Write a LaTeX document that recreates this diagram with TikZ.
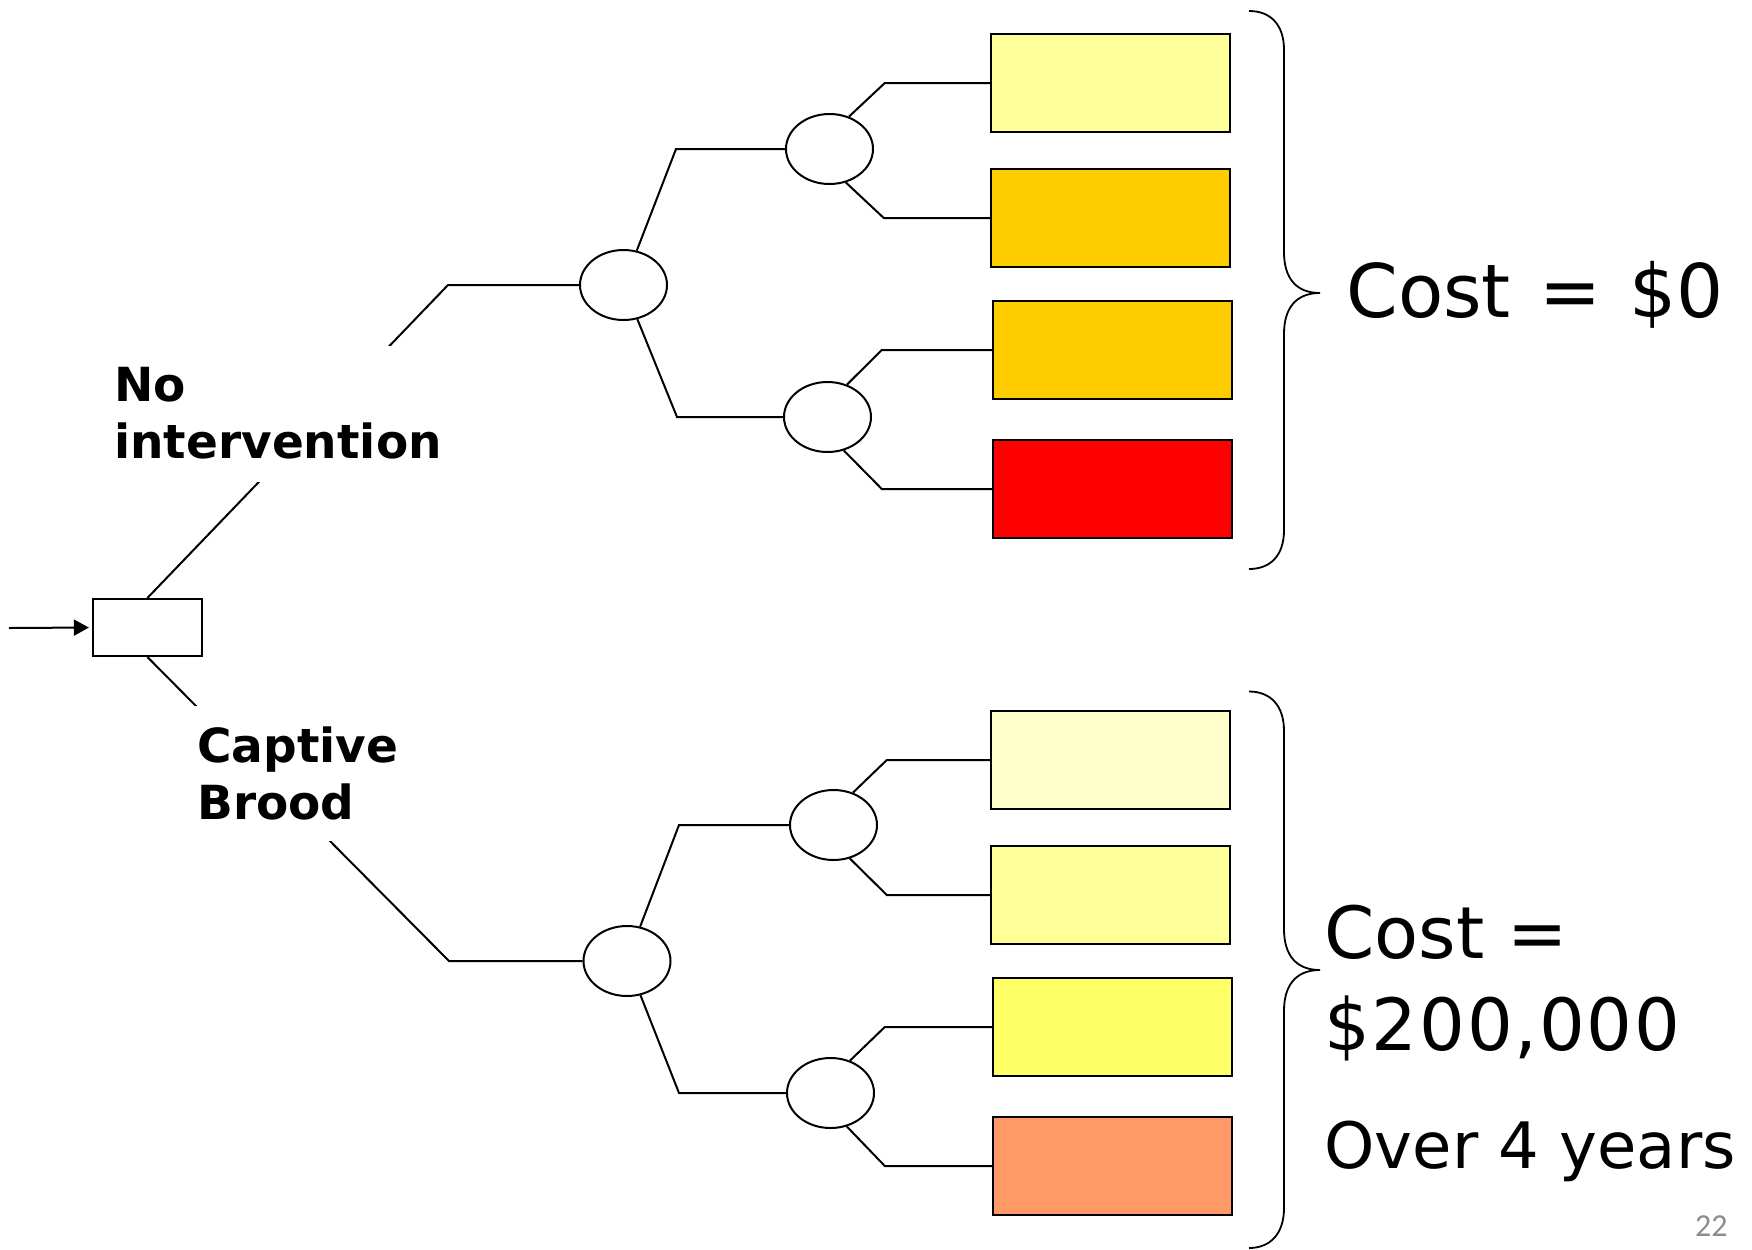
\documentclass[tikz,border=0pt]{standalone}
\usepackage{fontspec}
\setmainfont{DejaVu Sans}
\newfontfamily\widespaced[WordSpace=1.2]{DejaVu Sans}
\newfontfamily\pagenumfont{Carlito}
\usetikzlibrary{arrows.meta,shapes.geometric}
\definecolor{outA}{HTML}{FFFF99}
\definecolor{outB}{HTML}{FFCC00}
\definecolor{outC}{HTML}{FF0000}
\definecolor{outD}{HTML}{FFFFCC}
\definecolor{outE}{HTML}{FFFF66}
\definecolor{outF}{HTML}{FF9966}
\definecolor{pagegray}{HTML}{8C8C8C}
\begin{document}
\begin{tikzpicture}[x=0.5pt,y=-0.5pt,
  conn/.style={line width=1pt},
  chance/.style={ellipse, draw, line width=1pt, fill=white,
    minimum width=43.5pt, minimum height=35pt, inner sep=0pt},
  choice/.style={rectangle, draw, line width=1pt, fill=white,
    minimum width=54.5pt, minimum height=28.5pt, inner sep=0pt},
  outcome/.style={rectangle, draw, line width=1.2pt,
    minimum width=119.5pt, minimum height=49.25pt, inner sep=0pt},
  optlabel/.style={fill=white, align=left, anchor=west,
    font=\bfseries\fontsize{23.5}{28.5}\selectfont,
    inner xsep=4pt, inner ysep=0pt},
  bracepath/.style={line width=0.9pt},
  costtext/.style={anchor=base west, inner sep=0pt}
]
\useasboundingbox (0,0) rectangle (1752,1249);

% decision node and entry arrow
\node[choice] (dec) at (147.4,627.5) {};
\coordinate (entry) at (9,628);
\draw[conn, -{Triangle[length=7.5pt,width=8pt]}, shorten >=1.5pt] (entry) -- (dec.west);

% chance nodes
\node[chance] (A1) at (623.5,285) {};
\node[chance] (B1) at (829.5,149) {};
\node[chance] (B2) at (827.5,417) {};
\node[chance] (C1) at (627,961) {};
\node[chance] (D1) at (833.5,825) {};
\node[chance] (D2) at (830.5,1093) {};

% outcome boxes
\node[outcome, fill=outA] (o1) at (1110.5,83) {};
\node[outcome, fill=outB] (o2) at (1110.5,218) {};
\node[outcome, fill=outB] (o3) at (1112.5,350) {};
\node[outcome, fill=outC] (o4) at (1112.5,489) {};
\node[outcome, fill=outD] (o5) at (1110.5,760) {};
\node[outcome, fill=outA] (o6) at (1110.5,895) {};
\node[outcome, fill=outE] (o7) at (1112.5,1027) {};
\node[outcome, fill=outF] (o8) at (1112.5,1166) {};

% branches out of the decision
\draw[conn] (dec.north) -- ([xshift=-65.5pt]A1.west) -- (A1);
\draw[conn] (dec.south) -- ([xshift=-66.75pt]C1.west) -- (C1);

% first chance level
\draw[conn] (A1) -- ([xshift=-54.5pt]B1.west) -- (B1);
\draw[conn] (A1) -- ([xshift=-53pt]B2.west) -- (B2);
\draw[conn] (C1) -- ([xshift=-55pt]D1.west) -- (D1);
\draw[conn] (C1) -- ([xshift=-53.5pt]D2.west) -- (D2);

% second chance level to outcomes
\draw[conn] (B1.59) -- ([xshift=-52.5pt]o1.west) -- (o1.west);
\draw[conn] (B1.-64) -- ([xshift=-53pt]o2.west) -- (o2.west);
\draw[conn] (B2.59) -- ([xshift=-55pt]o3.west) -- (o3.west);
\draw[conn] (B2.-64) -- ([xshift=-55pt]o4.west) -- (o4.west);
\draw[conn] (D1.59) -- ([xshift=-51.5pt]o5.west) -- (o5.west);
\draw[conn] (D1.-64) -- ([xshift=-51.5pt]o6.west) -- (o6.west);
\draw[conn] (D2.59) -- ([xshift=-53.5pt]o7.west) -- (o7.west);
\draw[conn] (D2.-64) -- ([xshift=-53.5pt]o8.west) -- (o8.west);

% option labels sit over the decision branches
\node[optlabel, minimum height=68pt] (lblno) at (106,413.5) {No\\intervention};
\node[optlabel, minimum height=67.5pt] (lblcb) at (189,773) {Captive\\Brood};

% braces
\draw[bracepath] (1249,11) .. controls (1270,11) and (1284,24) .. (1284,50)
  -- (1284,252) .. controls (1284,278) and (1296,293) .. (1320,293)
  .. controls (1296,293) and (1284,308) .. (1284,334)
  -- (1284,530) .. controls (1284,556) and (1270,569) .. (1249,569);
\draw[bracepath] (1249,691.5) .. controls (1270,691.5) and (1284,705) .. (1284,731)
  -- (1284,929) .. controls (1284,955) and (1296,970) .. (1320,970)
  .. controls (1296,970) and (1284,985) .. (1284,1011)
  -- (1284,1208) .. controls (1284,1234) and (1270,1248) .. (1249,1248);

% cost annotations
\node[costtext, font=\widespaced\fontsize{37}{44}\selectfont] (cost0) at (1346,317) {Cost = \$0};
\node[costtext, font=\fontsize{36}{43}\selectfont] (cost1a) at (1324,958) {Cost =};
\node[costtext, font=\fontsize{36}{43}\selectfont\addfontfeatures{LetterSpace=2.5}] (cost1b) at (1324,1050) {\$200,000};
\node[costtext, font=\fontsize{32}{38}\selectfont] (years) at (1324,1168) {Over 4 years};

% page number
\node[anchor=base east, inner sep=0pt, text=pagegray, font=\pagenumfont\fontsize{16}{19}\selectfont] (pagenum) at (1728,1236) {22};
\end{tikzpicture}
\end{document}
